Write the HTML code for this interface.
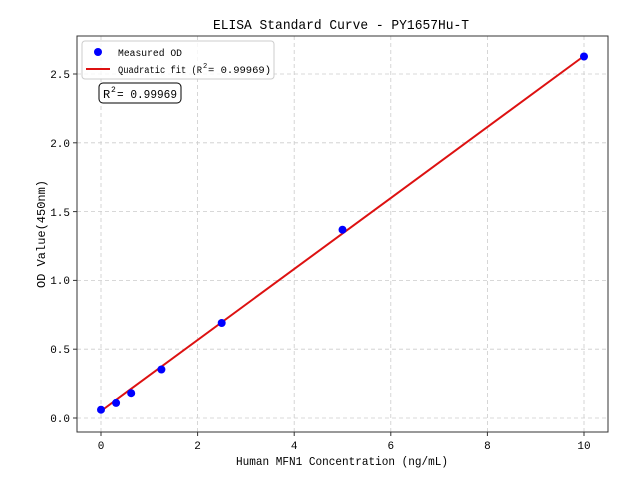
<!DOCTYPE html><html><head><style>body{margin:0;background:#fff}svg{display:block}text{font-family:"Liberation Mono","DejaVu Sans Mono",monospace;fill:#000}</style></head><body>
<svg width="640" height="480" viewBox="0 0 640 480">
<g stroke="#ccc" stroke-dasharray="4,3" stroke-width="0.8">
<line x1="101" y1="36" x2="101" y2="432"/><line x1="197.6" y1="36" x2="197.6" y2="432"/><line x1="294.2" y1="36" x2="294.2" y2="432"/><line x1="390.8" y1="36" x2="390.8" y2="432"/><line x1="487.4" y1="36" x2="487.4" y2="432"/><line x1="584" y1="36" x2="584" y2="432"/>
<line x1="77" y1="418" x2="608" y2="418"/><line x1="77" y1="349.2" x2="608" y2="349.2"/><line x1="77" y1="280.4" x2="608" y2="280.4"/><line x1="77" y1="211.6" x2="608" y2="211.6"/><line x1="77" y1="142.8" x2="608" y2="142.8"/><line x1="77" y1="74" x2="608" y2="74"/>
</g>
<line x1="101" y1="411" x2="584" y2="56" stroke="#dd1111" stroke-width="2"/>
<g fill="#0000ff">
<circle cx="101" cy="409.7" r="4"/><circle cx="116.1" cy="402.9" r="4"/><circle cx="131.2" cy="393.2" r="4"/><circle cx="161.4" cy="369.5" r="4"/><circle cx="221.7" cy="323" r="4"/><circle cx="342.5" cy="229.7" r="4"/><circle cx="584" cy="56.5" r="4"/>
</g>
<rect x="77" y="36" width="531" height="396" fill="none" stroke="#333" stroke-width="1"/>
<g stroke="#333"><line x1="101" y1="432" x2="101" y2="436"/><line x1="197.6" y1="432" x2="197.6" y2="436"/><line x1="294.2" y1="432" x2="294.2" y2="436"/><line x1="390.8" y1="432" x2="390.8" y2="436"/><line x1="487.4" y1="432" x2="487.4" y2="436"/><line x1="584" y1="432" x2="584" y2="436"/>
<line x1="73" y1="418" x2="77" y2="418"/><line x1="73" y1="349.2" x2="77" y2="349.2"/><line x1="73" y1="280.4" x2="77" y2="280.4"/><line x1="73" y1="211.6" x2="77" y2="211.6"/><line x1="73" y1="142.8" x2="77" y2="142.8"/><line x1="73" y1="74" x2="77" y2="74"/></g>
<g font-size="11" text-anchor="middle"><text x="101" y="449">0</text><text x="197.6" y="449">2</text><text x="294.2" y="449">4</text><text x="390.8" y="449">6</text><text x="487.4" y="449">8</text><text x="584" y="449">10</text></g>
<g font-size="11" text-anchor="end"><text x="70" y="422">0.0</text><text x="70" y="353">0.5</text><text x="70" y="284">1.0</text><text x="70" y="216">1.5</text><text x="70" y="147">2.0</text><text x="70" y="78">2.5</text></g>
<text x="236" y="465" font-size="12" textLength="212" lengthAdjust="spacingAndGlyphs">Human MFN1 Concentration (ng/mL)</text>
<text transform="translate(45,234) rotate(-90)" font-size="12" text-anchor="middle">OD Value(450nm)</text>
<text x="213" y="29" font-size="14" textLength="256" lengthAdjust="spacingAndGlyphs">ELISA Standard Curve - PY1657Hu-T</text>
<rect x="82" y="41" width="192" height="38" rx="3" fill="#fff" fill-opacity="0.8" stroke="#ccc"/>
<circle cx="98" cy="52" r="4" fill="#0000ff"/>
<text x="118" y="56" font-size="10" textLength="64" lengthAdjust="spacingAndGlyphs">Measured OD</text>
<line x1="86" y1="69" x2="110" y2="69" stroke="#dd1111" stroke-width="2"/>
<text x="118" y="73" font-size="10" textLength="84" lengthAdjust="spacingAndGlyphs">Quadratic fit (R</text>
<text x="203" y="68" font-size="7">2</text>
<text x="208" y="73" font-size="10" textLength="63" lengthAdjust="spacingAndGlyphs"> = 0.99969)</text>
<rect x="99" y="83" width="82" height="20" rx="4" fill="#fff" stroke="#000"/>
<text x="103" y="98" font-size="12">R</text>
<text x="111" y="92" font-size="8">2</text>
<text x="117" y="98" font-size="12" textLength="60" lengthAdjust="spacingAndGlyphs"> = 0.99969</text>
</svg></body></html>
